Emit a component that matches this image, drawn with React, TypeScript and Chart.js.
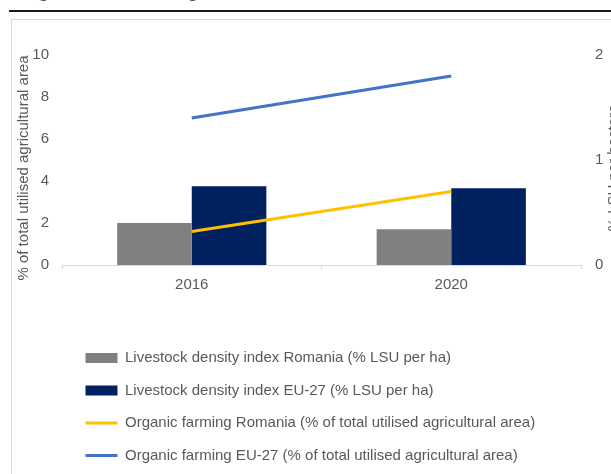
import React, { useEffect, useRef } from "react";
import { Chart, registerables } from "chart.js";

Chart.register(...registerables);

const FONT = '"Liberation Sans", Arial, sans-serif';
const TEXT_COLOR = "#595959";

const categories = ["2016", "2020"];
const livestockRomania = [0.4, 0.34];
const livestockEU = [0.75, 0.73];
const organicRomania = [1.6, 3.5];
const organicEU = [7.0, 9.0];
const leftTicks = [0, 2, 4, 6, 8, 10];
const rightTicks = [0, 1, 2];
const seriesLabels = [
  "Livestock density index Romania (% LSU per ha)",
  "Livestock density index EU-27 (% LSU per ha)",
  "Organic farming Romania (% of total utilised agricultural area)",
  "Organic farming EU-27 (% of total utilised agricultural area)",
];
const leftAxisTitle = "% of total utilised agricultural area";
const rightAxisTitle = "% LSU per hectare";

const axisTitlePlugin = {
  id: "axisTitles",
  afterDraw(chart: any) {
    const { ctx, chartArea } = chart;
    const cy = (chartArea.top + chartArea.bottom) / 2 + 8;
    ctx.save();
    ctx.font = `15px ${FONT}`;
    ctx.fillStyle = TEXT_COLOR;
    ctx.textAlign = "center";
    ctx.textBaseline = "middle";
    ctx.save();
    ctx.translate(chartArea.left - 38, cy);
    ctx.rotate(-Math.PI / 2);
    ctx.fillText(leftAxisTitle, 0, 0);
    ctx.restore();
    ctx.save();
    ctx.translate(chartArea.right + 33, cy);
    ctx.rotate(-Math.PI / 2);
    ctx.fillText(rightAxisTitle, 0, 0);
    ctx.restore();
    ctx.restore();
  },
};

const legendShiftPlugin = {
  id: "legendShift",
  afterLayout(chart: any) {
    if (chart.legend) {
      chart.legend.left = 56;
    }
  },
};

export default function App() {
  const ref = useRef<HTMLCanvasElement | null>(null);

  useEffect(() => {
    if (!ref.current) return;
    const chart = new Chart(ref.current, {
      type: "bar",
      data: {
        labels: categories,
        datasets: [
          {
            type: "bar",
            label: seriesLabels[0],
            data: livestockRomania,
            backgroundColor: "#808080",
            yAxisID: "y1",
            order: 1,
            categoryPercentage: 0.575,
            barPercentage: 1,
          },
          {
            type: "bar",
            label: seriesLabels[1],
            data: livestockEU,
            backgroundColor: "#002060",
            yAxisID: "y1",
            order: 1,
            categoryPercentage: 0.575,
            barPercentage: 1,
          },
          {
            type: "line",
            label: seriesLabels[2],
            data: organicRomania,
            borderColor: "#FFC000",
            backgroundColor: "#FFC000",
            borderWidth: 3,
            pointRadius: 0,
            yAxisID: "y",
            order: 0,
          },
          {
            type: "line",
            label: seriesLabels[3],
            data: organicEU,
            borderColor: "#4472C4",
            backgroundColor: "#4472C4",
            borderWidth: 3,
            pointRadius: 0,
            yAxisID: "y",
            order: 0,
          },
        ] as any,
      },
      options: {
        responsive: false,
        animation: false,
        layout: { padding: { top: 35, left: 0, right: 0, bottom: 7 } },
        plugins: {
          tooltip: { enabled: false },
          legend: {
            position: "bottom",
            align: "start",
            labels: {
              usePointStyle: true,
              pointStyleWidth: 32,
              boxHeight: 10,
              padding: 17.5,
              color: TEXT_COLOR,
              font: { size: 15, family: FONT },
              generateLabels: (c: any) =>
                c.data.datasets.map((ds: any, i: number) => {
                  const isLine = ds.type === "line";
                  const col = isLine ? ds.borderColor : ds.backgroundColor;
                  return {
                    text: ds.label,
                    fillStyle: col,
                    strokeStyle: col,
                    lineWidth: isLine ? 3 : 0,
                    pointStyle: isLine ? "line" : "rect",
                    hidden: false,
                    datasetIndex: i,
                    fontColor: TEXT_COLOR,
                  };
                }),
            },
          },
        },
        scales: {
          x: {
            offset: true,
            grid: {
              display: true,
              drawOnChartArea: false,
              drawTicks: true,
              tickLength: 4,
              color: "#d9d9d9",
              offset: true,
            },
            border: { display: true, color: "#d9d9d9" },
            ticks: { color: TEXT_COLOR, font: { size: 15, family: FONT }, padding: 7 },
            afterFit: (s: any) => {
              s.height = 68;
            },
          },
          y: {
            position: "left",
            min: 0,
            max: 10,
            grid: { display: false, drawTicks: false },
            border: { display: false },
            ticks: { color: TEXT_COLOR, font: { size: 15, family: FONT }, padding: 13 },
            afterBuildTicks: (s: any) => {
              s.ticks = leftTicks.map((v) => ({ value: v }));
            },
            afterFit: (s: any) => {
              s.width = 50;
            },
          },
          y1: {
            position: "right",
            min: 0,
            max: 2,
            grid: { display: false, drawTicks: false },
            border: { display: false },
            ticks: { color: TEXT_COLOR, font: { size: 15, family: FONT }, padding: 14 },
            afterBuildTicks: (s: any) => {
              s.ticks = rightTicks.map((v) => ({ value: v }));
            },
            afterFit: (s: any) => {
              s.width = 51;
            },
          },
        },
      } as any,
      plugins: [axisTitlePlugin, legendShiftPlugin],
    });
    return () => chart.destroy();
  }, []);

  const titleStyle: React.CSSProperties = {
    position: "absolute",
    top: -18,
    fontFamily: FONT,
    fontWeight: "bold",
    fontSize: 18,
    lineHeight: "18px",
    color: TEXT_COLOR,
    whiteSpace: "nowrap",
  };

  return (
    <div
      style={{
        position: "absolute",
        left: 0,
        top: 0,
        width: 611,
        height: 474,
        overflow: "hidden",
        background: "#fff",
      }}
    >
      <span style={{ ...titleStyle, left: 22 }}>Figure</span>
      <span style={{ ...titleStyle, left: 166 }}>Organic</span>
      <div
        style={{
          position: "absolute",
          left: 9,
          top: 10,
          width: 602,
          height: 2,
          background: "#1a1a1a",
        }}
      />
      <div
        style={{
          position: "absolute",
          left: 11,
          top: 19,
          width: 700,
          height: 520,
          border: "1px solid #d9d9d9",
        }}
      />
      <canvas
        ref={ref}
        width={620}
        height={460}
        style={{ position: "absolute", left: 12, top: 20, width: 620, height: 460 }}
      />
    </div>
  );
}
